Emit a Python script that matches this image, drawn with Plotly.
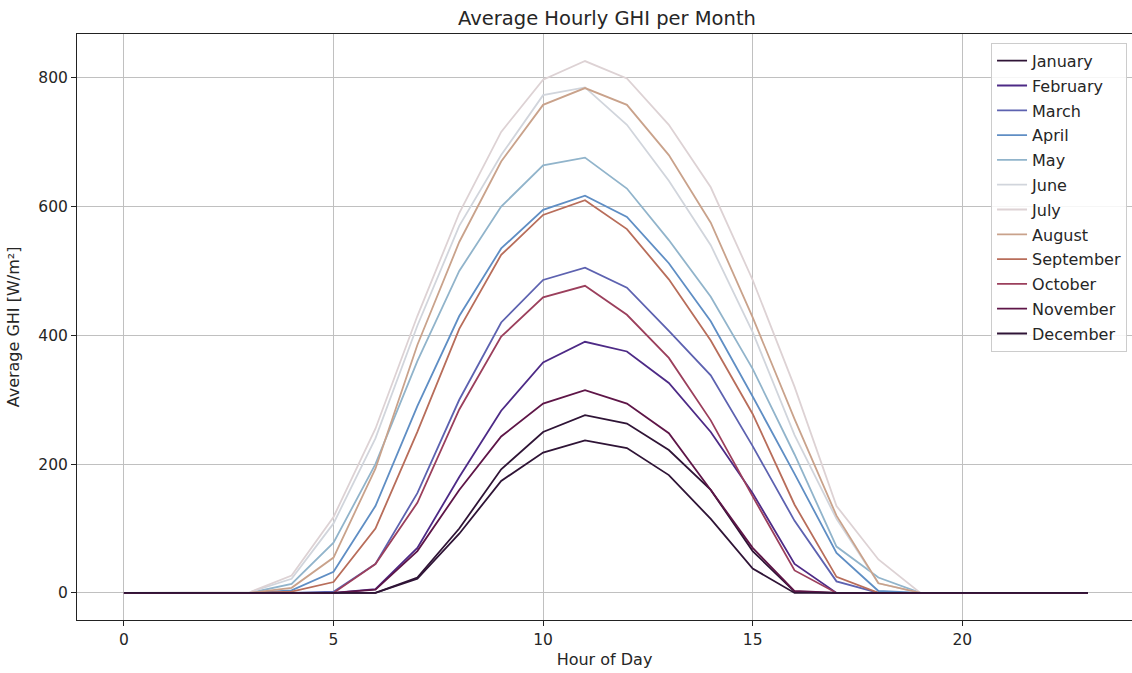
import plotly.graph_objects as go

hours = list(range(24))
months = ["January", "February", "March", "April", "May", "June", "July",
          "August", "September", "October", "November", "December"]

z = [0] * 4
january = [0, 0, 0, 0, 0, 0, 0, 24, 100, 192, 250, 276, 263, 222, 160, 65, 2, 0] + [0] * 6
february = [0, 0, 0, 0, 0, 0, 6, 70, 180, 283, 358, 390, 375, 326, 250, 155, 45, 0] + [0] * 6
march = [0, 0, 0, 0, 0, 2, 45, 155, 300, 420, 486, 505, 474, 407, 338, 228, 112, 18, 0] + [0] * 5
april = [0, 0, 0, 0, 4, 33, 135, 290, 430, 535, 595, 617, 584, 512, 422, 305, 185, 62, 3, 0] + z
may = [0, 0, 0, 0, 14, 78, 200, 360, 500, 600, 664, 676, 628, 548, 460, 348, 215, 72, 24, 0] + z
june = [0, 0, 0, 1, 22, 108, 240, 415, 570, 680, 773, 785, 727, 640, 540, 405, 245, 115, 15, 0] + z
july = [0, 0, 0, 1, 27, 118, 255, 430, 590, 716, 797, 826, 799, 727, 630, 486, 320, 135, 52, 0] + z
august = [0, 0, 0, 0, 8, 55, 193, 385, 545, 670, 758, 784, 758, 680, 575, 428, 270, 120, 15, 0] + z
september = [0, 0, 0, 0, 2, 17, 100, 250, 410, 525, 587, 610, 565, 487, 392, 278, 137, 25, 0] + [0] * 5
october = [0, 0, 0, 0, 0, 0, 45, 140, 285, 398, 459, 477, 432, 365, 268, 150, 35, 0] + [0] * 6
november = [0, 0, 0, 0, 0, 0, 5, 65, 160, 243, 294, 315, 294, 248, 160, 70, 3, 0] + [0] * 6
december = [0, 0, 0, 0, 0, 0, 0, 22, 92, 174, 218, 237, 225, 183, 115, 38, 0, 0] + [0] * 6

series = [january, february, march, april, may, june, july, august,
          september, october, november, december]

colors = ["#2f1436", "#4d2a86", "#5d62b0", "#5f8ec4", "#91b4cb", "#d1d5dc",
          "#ddd2d4", "#c9a28b", "#b86d5a", "#9b3f5c", "#5e1547", "#2f1436"]

FONT = "DejaVu Sans"
TXT = "#262626"

fig = go.Figure()
for i, (name, vals) in enumerate(zip(months, series)):
    fig.add_trace(go.Scatter(
        x=hours, y=vals, mode="lines", name=name,
        line=dict(color=colors[i], width=1.8),
        legendgroup=name,
    ))

axis_common = dict(
    showline=True, linecolor="#222", linewidth=1, mirror=True,
    ticks="outside", ticklen=5, tickcolor="#222",
    showgrid=True, gridcolor="#c0c0c0", gridwidth=1,
    zeroline=False,
    tickfont=dict(family=FONT, size=15.5, color=TXT),
)

fig.update_layout(
    width=1132, height=673,
    margin=dict(l=77, r=0, t=34, b=53),
    paper_bgcolor="white", plot_bgcolor="white",
    title=dict(text="Average Hourly GHI per Month", x=(607 / 1132), xanchor="center",
               y=1 - 18 / 673, yanchor="middle",
               font=dict(family=FONT, size=19.5, color=TXT)),
    xaxis=dict(range=[-1.12, 24.05], tickvals=[0, 5, 10, 15, 20],
               title=dict(text="Hour of Day", standoff=6,
                          font=dict(family=FONT, size=16, color=TXT)),
               **axis_common),
    yaxis=dict(range=[-42, 868], tickvals=[0, 200, 400, 600, 800],
               title=dict(text="Average GHI [W/m²]", standoff=14,
                          font=dict(family=FONT, size=16, color=TXT)),
               **axis_common),
    legend=dict(x=0.9953, xanchor="right", y=0.985, yanchor="top",
                bgcolor="rgba(255,255,255,0.85)", bordercolor="#cccccc", borderwidth=1,
                font=dict(family=FONT, size=16, color=TXT),
                tracegroupgap=1, itemwidth=30),
    showlegend=True,
)

fig.write_html("out.html")
